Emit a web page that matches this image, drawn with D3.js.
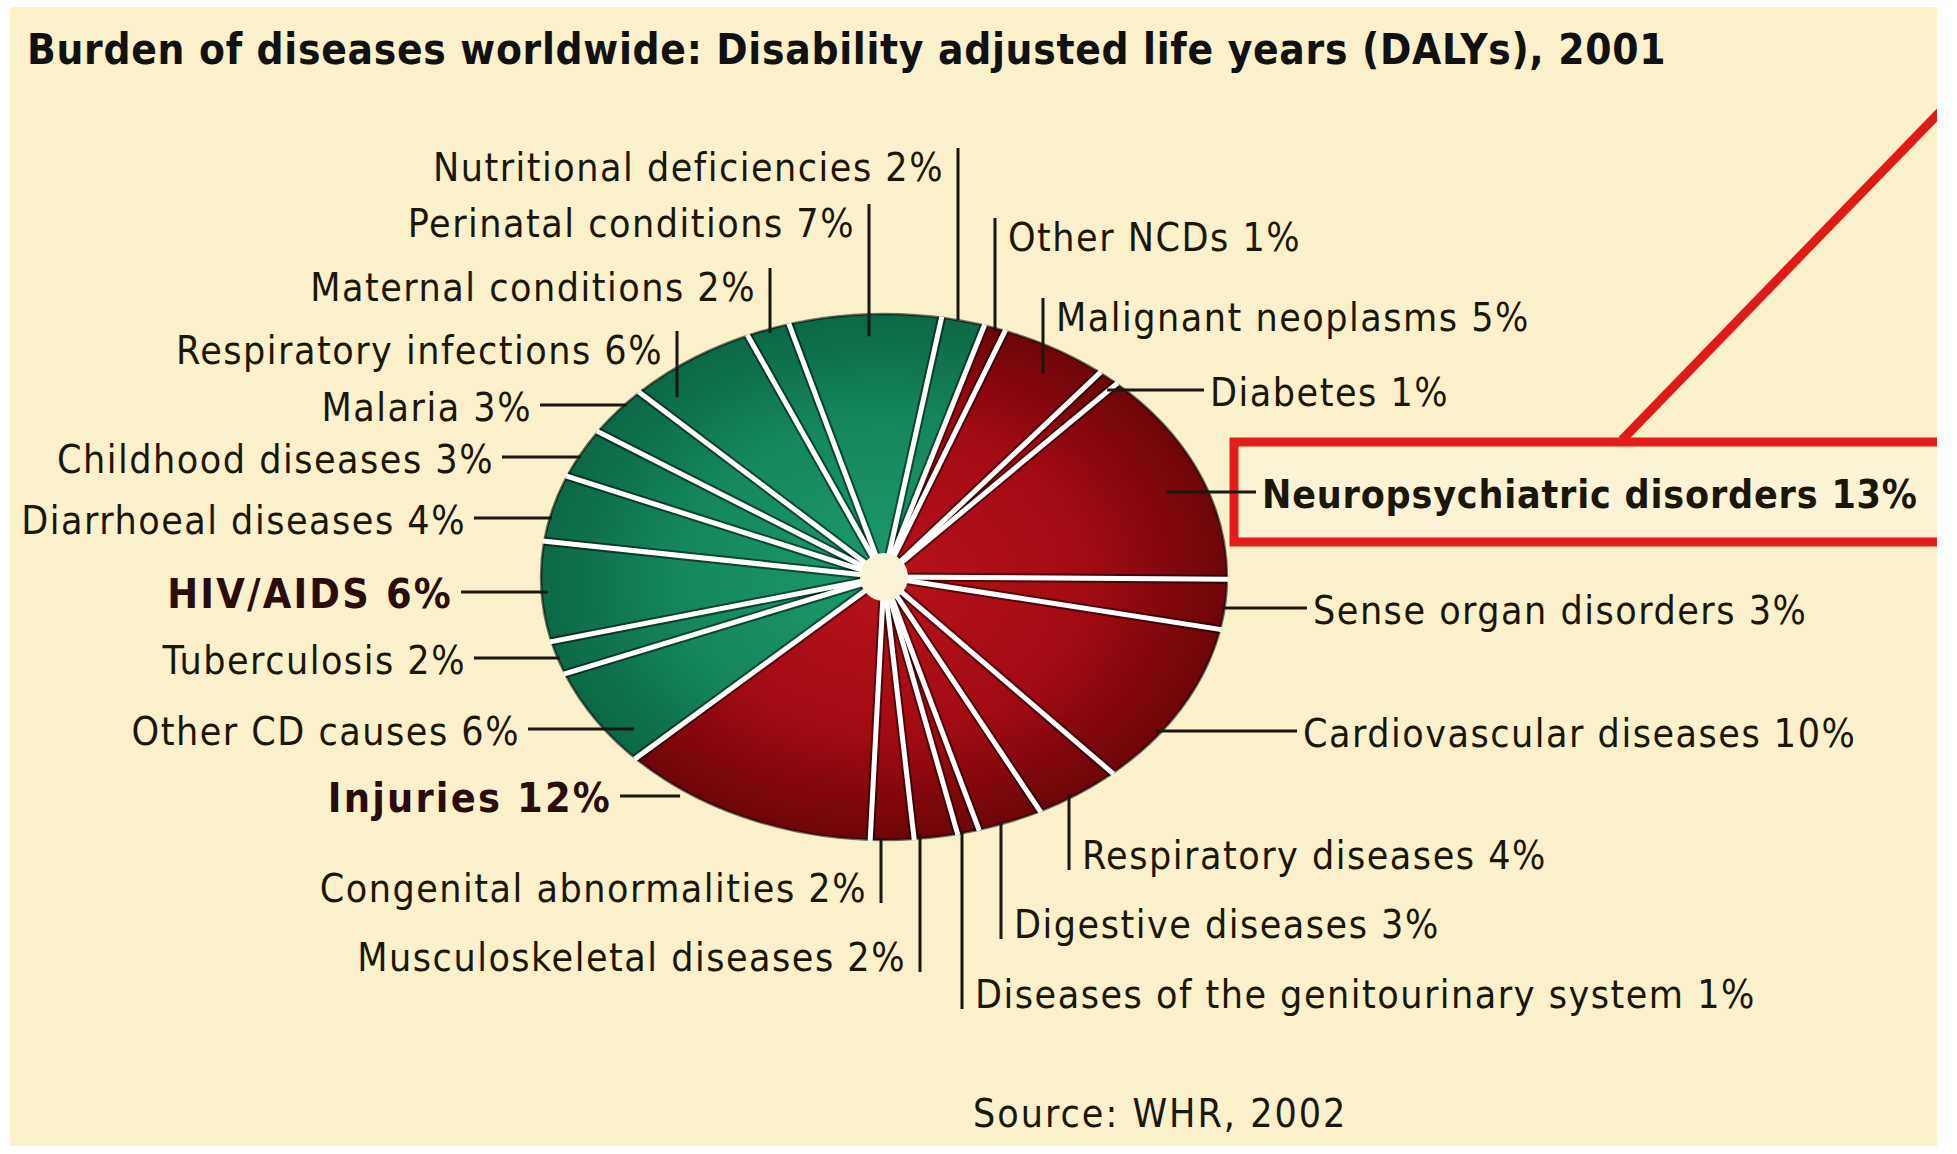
<!DOCTYPE html>
<html>
<head>
<meta charset="utf-8">
<script src="https://cdn.jsdelivr.net/npm/d3@7"></script>
<style>
  body { margin: 0; background: #ffffff; }
  text { font-family: "DejaVu Sans Condensed", "DejaVu Sans", sans-serif; font-stretch: condensed; }
</style>
</head>
<body>
<div class="dalys-pie"></div>
<script>
// Slices, clockwise, starting just right of 12 o'clock
var categories = ["Other NCDs", "Malignant neoplasms", "Diabetes", "Neuropsychiatric disorders",
  "Sense organ disorders", "Cardiovascular diseases", "Respiratory diseases", "Digestive diseases",
  "Diseases of the genitourinary system", "Musculoskeletal diseases", "Congenital abnormalities",
  "Injuries", "Other CD causes", "Tuberculosis", "HIV/AIDS", "Diarrhoeal diseases",
  "Childhood diseases", "Malaria", "Respiratory infections", "Maternal conditions",
  "Perinatal conditions", "Nutritional deficiencies"];
var shares = [1, 5, 1, 13, 3, 10, 4, 3, 1, 2, 2, 12, 6, 2, 6, 4, 3, 3, 6, 2, 7, 2];
var groups = ["NCD", "NCD", "NCD", "NCD", "NCD", "NCD", "NCD", "NCD", "NCD", "NCD", "NCD",
  "Injuries", "CD", "CD", "CD", "CD", "CD", "CD", "CD", "CD", "CD", "CD"];
var highlighted = ["Neuropsychiatric disorders", "Injuries", "HIV/AIDS"];

var title = "Burden of diseases worldwide: Disability adjusted life years (DALYs), 2001";
var source = "Source: WHR, 2002";

var width = 1957;
var height = 1154;

// pie is an ellipse
var cx = 884, cy = 577, rx = 343, ry = 263;

// label placement: text anchor point, side, leader direction (h/v) and how far the leader runs into the slice
var labelLayout = [
  { x: 1008, y: 237, side: "start", leader: "v", inset: 4 },
  { x: 1056, y: 317, side: "start", leader: "v", inset: 30 },
  { x: 1210, y: 392, side: "start", leader: "h", inset: 18 },
  { x: 1262, y: 494, side: "start", leader: "h", inset: 42 },
  { x: 1313, y: 610, side: "start", leader: "h", inset: 2 },
  { x: 1303, y: 733, side: "start", leader: "h", inset: 6 },
  { x: 1082, y: 855, side: "start", leader: "v", inset: 4 },
  { x: 1014, y: 924, side: "start", leader: "v", inset: 2 },
  { x: 975, y: 994, side: "start", leader: "v", inset: 2 },
  { x: 906, y: 957, side: "end", leader: "v", inset: 4 },
  { x: 867, y: 888, side: "end", leader: "v", inset: 2 },
  { x: 612, y: 798, side: "end", leader: "h", inset: -14 },
  { x: 520, y: 731, side: "end", leader: "h", inset: 30 },
  { x: 466, y: 660, side: "end", leader: "h", inset: 2 },
  { x: 453, y: 594, side: "end", leader: "h", inset: 6 },
  { x: 466, y: 520, side: "end", leader: "h", inset: 2 },
  { x: 494, y: 459, side: "end", leader: "h", inset: 2 },
  { x: 532, y: 407, side: "end", leader: "h", inset: 2 },
  { x: 663, y: 350, side: "end", leader: "v", inset: 30 },
  { x: 756, y: 287, side: "end", leader: "v", inset: 4 },
  { x: 855, y: 223, side: "end", leader: "v", inset: 22 },
  { x: 944, y: 167, side: "end", leader: "v", inset: 0 }
];

var svg = d3.select(".dalys-pie")
  .append("svg")
    .attr("width", width)
    .attr("height", height);

var defs = svg.append("defs");

defs.append("clipPath").attr("id", "paper")
  .append("rect")
    .attr("x", 10).attr("y", 7)
    .attr("width", 1927).attr("height", 1139);

var gradRed = defs.append("radialGradient")
  .attr("id", "gradNCD")
  .attr("gradientUnits", "userSpaceOnUse")
  .attr("cx", 0).attr("cy", 0).attr("r", rx);
gradRed.append("stop").attr("offset", "0%").attr("stop-color", "#b8121a");
gradRed.append("stop").attr("offset", "60%").attr("stop-color", "#a20b12");
gradRed.append("stop").attr("offset", "100%").attr("stop-color", "#6c0508");

var gradGreen = defs.append("radialGradient")
  .attr("id", "gradCD")
  .attr("gradientUnits", "userSpaceOnUse")
  .attr("cx", 0).attr("cy", 0).attr("r", rx);
gradGreen.append("stop").attr("offset", "0%").attr("stop-color", "#1a9a6b");
gradGreen.append("stop").attr("offset", "60%").attr("stop-color", "#15875d");
gradGreen.append("stop").attr("offset", "100%").attr("stop-color", "#0c6745");

var paper = svg.append("g").attr("clip-path", "url(#paper)");

paper.append("rect")
  .attr("x", 0).attr("y", 0)
  .attr("width", width).attr("height", height)
  .attr("fill", "#faf0c9");

// Title and source
paper.append("text")
  .attr("x", 27)
  .attr("y", 64)
  .attr("font-size", "42px")
  .attr("font-weight", "bold")
  .attr("letter-spacing", "0.7px")
  .attr("fill", "#111")
  .text(title);

paper.append("text")
  .attr("x", 973)
  .attr("y", 1113)
  .attr("dominant-baseline", "central")
  .attr("font-size", "39px")
  .attr("letter-spacing", "2px")
  .attr("fill", "#1a1608")
  .text(source);

// Highlight box and pointer for Neuropsychiatric disorders
paper.append("line")
  .attr("x1", 1622).attr("y1", 440)
  .attr("x2", 2060).attr("y2", -12)
  .attr("stroke", "#e01a18")
  .attr("stroke-width", 9);

paper.append("rect")
  .attr("x", 1234).attr("y", 442)
  .attr("width", 760).attr("height", 100)
  .attr("fill", "#fbf3d4")
  .attr("stroke", "#e31d1a")
  .attr("stroke-width", 9);

// Pie
var pie = d3.pie()
  .sort(null)
  .value(function(d) { return d; })
  .startAngle(17 * Math.PI / 180)
  .endAngle(377 * Math.PI / 180);

var arcs = pie(shares);

var arc = d3.arc()
  .innerRadius(0)
  .outerRadius(rx);

function onEllipse(a, f) {
  return [cx + rx * f * Math.sin(a), cy - ry * f * Math.cos(a)];
}

var pieG = paper.append("g")
  .attr("transform", "translate(" + cx + "," + cy + ") scale(1," + (ry / rx) + ")");

pieG.selectAll("path")
  .data(arcs)
  .enter()
  .append("path")
  .attr("d", arc)
  .attr("fill", function(d, i) {
    return groups[i] == "CD" ? "url(#gradCD)" : "url(#gradNCD)";
  });

paper.append("ellipse")
  .attr("cx", cx).attr("cy", cy)
  .attr("rx", rx).attr("ry", ry)
  .attr("fill", "none")
  .attr("stroke", "rgba(0,0,0,0.55)")
  .attr("stroke-width", 2.5);

// white separators with dark edges
paper.selectAll(".sep-dark")
  .data(arcs)
  .enter()
  .append("line")
  .attr("class", "sep-dark")
  .attr("x1", cx).attr("y1", cy)
  .attr("x2", function(d) { return onEllipse(d.startAngle, 1)[0]; })
  .attr("y2", function(d) { return onEllipse(d.startAngle, 1)[1]; })
  .attr("stroke", "rgba(0,0,0,0.5)")
  .attr("stroke-width", 9);

paper.selectAll(".sep")
  .data(arcs)
  .enter()
  .append("line")
  .attr("class", "sep")
  .attr("x1", cx).attr("y1", cy)
  .attr("x2", function(d) { return onEllipse(d.startAngle, 1.004)[0]; })
  .attr("y2", function(d) { return onEllipse(d.startAngle, 1.004)[1]; })
  .attr("stroke", "#ffffff")
  .attr("stroke-width", 5);

paper.append("circle")
  .attr("cx", cx).attr("cy", cy)
  .attr("r", 24)
  .attr("fill", "#fbf3d8");

// Leaders: straight lines from the label to the ellipse edge (plus inset)
function leaderPoints(d, i) {
  var L = labelLayout[i];
  var mid = (d.startAngle + d.endAngle) / 2;
  var right = Math.sin(mid) > 0;
  var below = Math.cos(mid) < 0;
  if (L.leader == "h") {
    var y = L.y - 2;
    var t = (y - cy) / ry;
    var dx = rx * Math.sqrt(Math.max(0, 1 - t * t));
    var xEdge = right ? cx + dx - L.inset : cx - dx + L.inset;
    var xText = L.side == "start" ? L.x - 6 : L.x + 8;
    return [[xText, y], [xEdge, y]];
  } else {
    var x = L.side == "start" ? L.x - 13 : L.x + 14;
    var s = (x - cx) / rx;
    var dy = ry * Math.sqrt(Math.max(0, 1 - s * s));
    var yEdge = below ? cy + dy - L.inset : cy - dy + L.inset;
    var yText = below ? L.y + 15 : L.y - 19;
    return [[x, yText], [x, yEdge]];
  }
}

paper.selectAll(".leader")
  .data(arcs)
  .enter()
  .append("line")
  .attr("class", "leader")
  .attr("x1", function(d, i) { return leaderPoints(d, i)[0][0]; })
  .attr("y1", function(d, i) { return leaderPoints(d, i)[0][1]; })
  .attr("x2", function(d, i) { return leaderPoints(d, i)[1][0]; })
  .attr("y2", function(d, i) { return leaderPoints(d, i)[1][1]; })
  .attr("stroke", "#1a1610")
  .attr("stroke-width", 3);

// Labels (the highlighted ones are bold; the boxed one has to fit inside the paper)
function isBold(i) {
  return highlighted.indexOf(categories[i]) >= 0;
}
function isBoxed(i) {
  return categories[i] == "Neuropsychiatric disorders";
}

paper.selectAll(".label")
  .data(arcs)
  .enter()
  .append("text")
  .attr("class", "label")
  .attr("x", function(d, i) { return labelLayout[i].x; })
  .attr("y", function(d, i) { return labelLayout[i].y; })
  .attr("text-anchor", function(d, i) { return labelLayout[i].side; })
  .attr("dominant-baseline", "central")
  .attr("font-size", function(d, i) {
    if (isBoxed(i)) return "39px";
    return isBold(i) ? "41px" : "39px";
  })
  .attr("letter-spacing", function(d, i) {
    if (isBoxed(i)) return "0.8px";
    return isBold(i) ? "2.2px" : "1.5px";
  })
  .attr("font-weight", function(d, i) { return isBold(i) ? "bold" : "normal"; })
  .attr("fill", function(d, i) {
    return categories[i] == "HIV/AIDS" || categories[i] == "Injuries" ? "#2a0c0c" : "#1a1608";
  })
  .text(function(d, i) {
    return categories[i] + " " + shares[i] + "%";
  });
</script>
</body>
</html>
